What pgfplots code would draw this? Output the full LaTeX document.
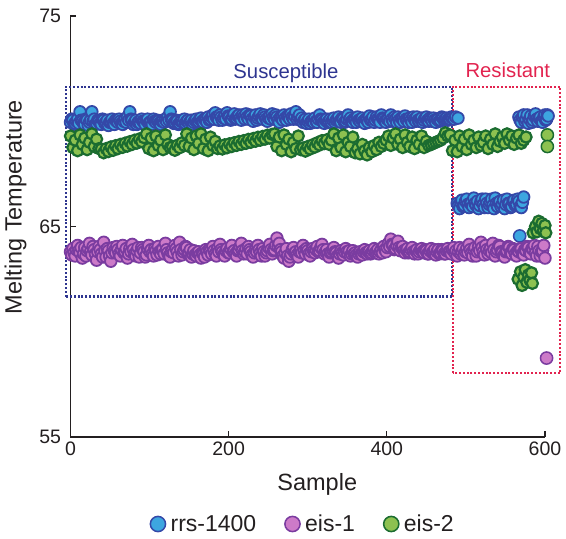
\documentclass[border=0pt]{standalone}
\usepackage{fontspec}
\setmainfont{Liberation Sans}
\usepackage{pgfplots}
\pgfplotsset{compat=1.18}
\definecolor{bluefill}{HTML}{3DA6E0}
\definecolor{blueedge}{HTML}{3448A8}
\definecolor{purpfill}{HTML}{CC7AC8}
\definecolor{purpedge}{HTML}{7A3CA0}
\definecolor{greenfill}{HTML}{8DC150}
\definecolor{greenedge}{HTML}{1B6C30}
\definecolor{boxblue}{HTML}{2E3590}
\definecolor{boxred}{HTML}{E2234F}
\definecolor{txt}{HTML}{231F20}
\pgfplotsset{
 dense/.style={only marks, mark=*, mark size=5.8pt, mark options={fill=#1fill, draw=#1edge, line width=1.8pt}},
 mid/.style={only marks, mark=*, mark size=5.6pt, mark options={fill=#1fill, draw=#1edge, line width=2.2pt}},
 single/.style={only marks, mark=*, mark size=6.1pt, mark options={fill=#1fill, draw=#1edge, line width=1.5pt}},
}
\begin{document}
\begin{tikzpicture}
\begin{axis}[
 at={(0pt,0pt)}, anchor=south west, scale only axis,
 width=474.5pt, height=421pt,
 xmin=0, xmax=600, ymin=55, ymax=75,
 axis x line*=bottom, axis y line*=left,
 axis line style={line width=1.2pt, color=txt, -},
 tick align=inside, major tick length=6pt,
 every tick/.style={line width=1.2pt, color=txt},
 xtick={0,200,400,600}, ytick={55,65,75},
 minor tick num=0,
 /pgf/number format/assume math mode=true,
 tick label style={font=\fontsize{19.5}{22}\selectfont, color=txt},
 xticklabel style={yshift=-1pt},
 yticklabel style={xshift=-6pt},
 xlabel={Sample}, ylabel={Melting Temperature},
 every axis x label/.style={at={(axis description cs:0.52,0)}, anchor=north, yshift=-36pt, inner sep=0pt, font=\fontsize{23.5}{26}\selectfont, color=txt},
 every axis y label/.style={at={(axis description cs:-0.1391,0.546)}, rotate=90, anchor=north, inner sep=0pt, font=\fontsize{23.5}{26}\selectfont, color=txt},
 clip=false,
 legend columns=3,
 legend style={at={(axis description cs:0.4895,0)}, anchor=center, yshift=-87pt, draw=none, fill=none, font=\fontsize{23}{26}\selectfont, text=txt, /tikz/every even column/.append style={column sep=26pt}},
 legend image code/.code={\path (-8pt,0pt) (10.5pt,0pt); \draw[#1, mark size=7.6pt, every mark/.append style={line width=1.5pt}] plot coordinates {(0pt,0pt)};},
]
\addplot[dense=blue] coordinates {
(0,69.95)(1.5,70.1)(3,70.05)(4.5,69.85)(6,69.9)(7.5,70.0)(9,70.1)(10.5,69.9)(12,70.45)(13.5,70.05)(15,70.0)(16.5,69.9)(18,69.85)(19.5,70.1)(21,70.05)(22.5,69.8)(24,69.95)(25.5,70.05)(27,70.45)(28.5,70.0)(30,70.1)(31.5,69.85)(33,69.9)(34.5,70.05)(36,70.0)(37.5,69.9)(39,69.85)(40.5,70.1)(42,70.05)(43.5,69.9)(45,69.95)(46.5,70.05)(48,69.8)(49.5,69.95)(51,70.0)(52.5,70.1)(54,69.9)(55.5,69.85)(57,70.05)(58.5,70.0)(60,69.95)(61.5,70.1)(63,70.0)(64.5,69.9)(66,69.85)(67.5,70.0)(69,70.1)(70.5,69.95)(72,70.2)(73.5,70.05)(75,70.45)(76.5,70.1)(78,70.05)(79.5,69.85)(81,69.95)(82.5,70.05)(84,69.85)(85.5,69.95)(87,70.0)(88.5,69.9)(90,70.1)(91.5,70.0)(93,69.95)(94.5,69.85)(96,70.05)(97.5,70.1)(99,69.9)(100.5,69.95)(102,70.0)(103.5,69.85)(105,70.1)(106.5,70.0)(108,69.95)(109.5,70.05)(111,70.0)(112.5,69.9)(114,69.85)(115.5,70.0)(117,70.05)(118.5,69.95)(120,70.1)(121.5,70.0)(123,70.2)(124.5,70.05)(126,70.45)(127.5,70.1)(129,70.05)(130.5,69.9)(132,69.95)(133.5,70.05)(135,70.0)(136.5,69.85)(138,69.9)(139.5,70.0)(141,70.05)(142.5,69.95)(144,70.1)(145.5,69.9)(147,70.0)(148.5,70.05)(150,69.9)(151.5,70.0)(153,70.05)(154.5,69.85)(156,69.95)(157.5,70.05)(159,70.1)(160.5,69.95)(162,70.0)(163.5,70.1)(165,70.15)(166.5,70.0)(168,69.95)(169.5,70.1)(171,70.05)(172.5,69.95)(174,70.2)(175.5,70.05)(177,70.1)(178.5,70.2)(180,70.3)(181.5,70.1)(183,70.4)(184.5,70.2)(186,70.15)(187.5,70.05)(189,70.3)(190.5,70.2)(192,70.05)(193.5,70.15)(195,70.25)(196.5,70.1)(198,70.4)(199.5,70.25)(201,70.2)(202.5,70.05)(204,70.1)(205.5,70.25)(207,70.35)(208.5,70.1)(210,70.15)(211.5,70.25)(213,70.3)(214.5,70.15)(216,70.05)(217.5,70.3)(219,70.2)(220.5,70.1)(222,70.35)(223.5,70.2)(225,70.1)(226.5,70.3)(228,70.25)(229.5,70.1)(231,70.0)(232.5,70.2)(234,70.3)(235.5,70.05)(237,70.15)(238.5,70.25)(240,70.35)(241.5,70.15)(243,70.1)(244.5,70.3)(246,70.2)(247.5,70.1)(249,70.0)(250.5,70.15)(252,70.25)(253.5,70.1)(255,70.35)(256.5,70.2)(258,70.1)(259.5,70.3)(261,70.2)(262.5,70.05)(264,69.95)(265.5,70.2)(267,70.15)(268.5,70.05)(270,70.3)(271.5,70.15)(273,70.05)(274.5,70.25)(276,70.2)(277.5,70.1)(279,70.35)(280.5,70.2)(282,70.1)(283.5,70.25)(285,70.45)(286.5,70.1)(288,70.2)(289.5,70.3)(291,70.05)(292.5,70.15)(294,69.95)(295.5,70.05)(297,70.1)(298.5,69.9)(300,70.0)(301.5,70.1)(303,69.9)(304.5,70.0)(306,70.05)(307.5,69.95)(309,70.15)(310.5,70.0)(312,69.95)(313.5,70.1)(315,70.3)(316.5,70.1)(318,70.05)(319.5,69.95)(321,69.9)(322.5,70.05)(324,70.1)(325.5,69.95)(327,70.0)(328.5,70.1)(330,69.95)(331.5,70.05)(333,70.15)(334.5,69.95)(336,70.05)(337.5,70.1)(339,70.2)(340.5,70.0)(342,69.95)(343.5,70.15)(345,70.1)(346.5,69.95)(348,70.0)(349.5,70.1)(351,70.3)(352.5,70.05)(354,70.15)(355.5,70.0)(357,69.95)(358.5,70.1)(360,70.05)(361.5,69.95)(363,70.2)(364.5,70.05)(366,70.0)(367.5,70.1)(369,70.15)(370.5,70.0)(372,69.9)(373.5,70.1)(375,70.05)(376.5,69.95)(378,70.25)(379.5,70.05)(381,70.1)(382.5,70.2)(384,69.95)(385.5,70.05)(387,70.2)(388.5,70.1)(390,70.05)(391.5,69.95)(393,70.3)(394.5,70.15)(396,70.1)(397.5,70.0)(399,69.95)(400.5,70.1)(402,70.15)(403.5,70.0)(405,70.3)(406.5,70.1)(408,70.0)(409.5,70.2)(411,70.1)(412.5,69.95)(414,70.2)(415.5,70.05)(417,69.95)(418.5,70.15)(420,70.1)(421.5,70.0)(423,70.25)(424.5,70.1)(426,70.05)(427.5,69.95)(429,70.15)(430.5,70.05)(432,69.95)(433.5,70.2)(435,70.1)(436.5,70.0)(438,70.2)(439.5,70.05)(441,70.0)(442.5,70.1)(444,70.15)(445.5,69.95)(447,70.05)(448.5,70.15)(450,70.2)(451.5,70.05)(453,70.0)(454.5,70.15)(456,70.1)(457.5,70.0)(459,70.15)(460.5,70.05)(462,69.95)(463.5,70.1)(465,70.1)(466.5,70.0)(468,70.05)(469.5,70.2)(471,70.15)(472.5,70.05)(474,70.1)(475.5,70.15)(477,70.05)(478.5,70.1)(480,70.1)(481.5,70.2)(483,70.15)(485,70.1)(487,70.2)(490,70.15)
(489,66.1)(490.5,66.0)(492,65.85)(493.5,66.15)(495,66.25)(496.5,65.95)(498,66.0)(499.5,66.2)(501,66.3)(502.5,66.05)(504,65.9)(505.5,66.1)(507,66.15)(508.5,65.95)(510,66.35)(511.5,66.1)(513,66.0)(514.5,66.2)(516,65.85)(517.5,66.0)(519,66.2)(520.5,66.3)(522,66.05)(523.5,65.9)(525,66.3)(526.5,66.1)(528,65.9)(529.5,66.05)(531,66.15)(532.5,66.3)(534,66.0)(535.5,65.85)(537,66.35)(538.5,66.1)(540,65.95)(541.5,66.15)(543,66.2)(544.5,65.95)(546,66.05)(547.5,66.25)(549,65.85)(550.5,66.05)(552,66.3)(553.5,66.1)(555,66.1)(556.5,65.9)(558,65.95)(559.5,66.2)(561,66.25)(562.5,66.0)(564,66.05)(565.5,66.3)(567,66.2)(568.5,65.95)(570,65.9)(571.5,66.15)(573,66.4)
(567,70.2)(568.5,70.05)(570,69.95)(571.5,70.2)(573,70.3)(574.5,70.0)(576,70.1)(577.5,70.3)(579,69.9)(580.5,70.1)(582,70.25)(583.5,69.95)(585,70.05)(586.5,70.25)(588,70.35)(589.5,70.1)(591,70.0)(592.5,70.15)(594,70.2)(595.5,70.0)(597,69.95)(598.5,70.2)(600,70.3)(601,70.05)(602,70.1)(603,70.3)(604,70.25)
};
\addlegendentry{rrs-1400}
\addplot[single=blue, forget plot] coordinates {(568,64.55)};
\addplot[dense=purp] coordinates {
(0,63.8)(1.5,63.65)(3,63.95)(4.5,63.75)(6,63.6)(7.5,63.9)(9,64.1)(10.5,63.85)(12,63.75)(13.5,64.0)(15,63.5)(16.5,63.7)(18,64.0)(19.5,63.6)(21,63.85)(22.5,63.95)(24,64.2)(25.5,63.8)(27,63.65)(28.5,64.05)(30,63.9)(31.5,63.7)(33,63.4)(34.5,63.8)(36,64.05)(37.5,63.9)(39,63.7)(40.5,63.55)(42,64.25)(43.5,63.85)(45,63.55)(46.5,63.95)(48,63.85)(49.5,63.6)(51,63.35)(52.5,63.75)(54,64.0)(55.5,63.85)(57,63.75)(58.5,64.05)(60,63.9)(61.5,63.7)(63,63.6)(64.5,63.9)(66,64.1)(67.5,63.75)(69,63.8)(70.5,63.95)(72,63.5)(73.5,63.7)(75,63.95)(76.5,63.8)(78,64.15)(79.5,63.9)(81,63.7)(82.5,63.6)(84,63.85)(85.5,64.0)(87,63.55)(88.5,63.75)(90,64.0)(91.5,63.9)(93,63.8)(94.5,63.55)(96,63.65)(97.5,63.95)(99,64.1)(100.5,63.8)(102,63.9)(103.5,63.7)(105,63.6)(106.5,63.95)(108,63.85)(109.5,63.65)(111,64.05)(112.5,63.8)(114,63.7)(115.5,63.9)(117,63.95)(118.5,63.7)(120,64.2)(121.5,63.9)(123,63.75)(124.5,63.6)(126,63.55)(127.5,63.8)(129,63.9)(130.5,63.75)(132,64.1)(133.5,63.95)(135,63.8)(136.5,63.6)(138,64.25)(139.5,63.9)(141,63.65)(142.5,63.8)(144,63.9)(145.5,64.05)(147,64.0)(148.5,63.7)(150,63.75)(151.5,63.9)(153,63.55)(154.5,63.7)(156,63.85)(157.5,63.65)(159,63.6)(160.5,63.75)(162,63.8)(163.5,63.65)(165,63.5)(166.5,63.75)(168,63.7)(169.5,63.55)(171,63.9)(172.5,63.8)(174,63.65)(175.5,63.9)(177,63.85)(178.5,63.7)(180,64.05)(181.5,63.85)(183,63.7)(184.5,63.6)(186,63.95)(187.5,63.8)(189,64.15)(190.5,63.9)(192,63.8)(193.5,63.65)(195,63.6)(196.5,63.85)(198,63.95)(199.5,63.75)(201,63.75)(202.5,63.95)(204,64.1)(205.5,63.8)(207,63.85)(208.5,63.7)(210,63.6)(211.5,63.85)(213,63.9)(214.5,64.05)(216,64.2)(217.5,63.85)(219,63.7)(220.5,63.8)(222,63.95)(223.5,63.7)(225,64.05)(226.5,63.9)(228,63.8)(229.5,63.65)(231,63.55)(232.5,63.75)(234,63.9)(235.5,63.8)(237,64.1)(238.5,63.9)(240,63.75)(241.5,63.6)(243,63.95)(244.5,63.8)(246,63.6)(247.5,63.75)(249,63.85)(250.5,64.0)(252,64.15)(253.5,63.9)(255,63.7)(256.5,63.85)(258,63.9)(259.5,64.1)(261,64.45)(262.5,64.05)(264,64.2)(265.5,63.9)(267,63.8)(268.5,63.6)(270,63.5)(271.5,63.75)(273,63.95)(274.5,63.6)(276,63.35)(277.5,63.55)(279,63.7)(280.5,63.9)(282,64.0)(283.5,63.75)(285,63.8)(286.5,63.65)(288,63.55)(289.5,63.8)(291,63.9)(292.5,63.75)(294,64.1)(295.5,63.85)(297,63.7)(298.5,63.95)(300,63.85)(301.5,63.7)(303,63.6)(304.5,63.8)(306,63.95)(307.5,63.85)(309,63.75)(310.5,63.9)(312,64.05)(313.5,63.8)(315,63.85)(316.5,64.0)(318,64.15)(319.5,63.9)(321,63.7)(322.5,63.8)(324,63.9)(325.5,63.7)(327,63.55)(328.5,63.75)(330,63.8)(331.5,63.9)(333,64.0)(334.5,63.8)(336,63.75)(337.5,63.6)(339,63.5)(340.5,63.7)(342,63.85)(343.5,63.75)(345,63.65)(346.5,63.8)(348,63.95)(349.5,63.8)(351,63.7)(352.5,63.85)(354,63.6)(355.5,63.7)(357,63.85)(358.5,63.7)(360,63.75)(361.5,63.65)(363,63.55)(364.5,63.7)(366,63.8)(367.5,63.7)(369,63.65)(370.5,63.8)(372,63.9)(373.5,63.75)(375,63.7)(376.5,63.8)(378,63.85)(379.5,63.7)(381,63.75)(382.5,63.85)(384,63.95)(385.5,63.75)(387,63.8)(388.5,63.9)(390,63.7)(391.5,63.8)(393,63.9)(394.5,63.75)(396,64.05)(397.5,63.9)(399,63.8)(400.5,64.0)(402,64.2)(403.5,64.05)(405,64.4)(406.5,64.15)(408,64.1)(409.5,63.9)(411,63.95)(412.5,64.1)(414,64.3)(415.5,64.0)(417,63.85)(418.5,64.0)(420,64.05)(421.5,63.85)(423,63.75)(424.5,63.9)(426,63.95)(427.5,63.75)(429,63.8)(430.5,63.9)(432,64.0)(433.5,63.8)(435,63.7)(436.5,63.85)(438,63.9)(439.5,63.7)(441,63.8)(442.5,63.9)(444,63.95)(445.5,63.8)(447,63.75)(448.5,63.9)(450,63.85)(451.5,63.7)(453,63.7)(454.5,63.85)(456,63.95)(457.5,63.75)(459,63.8)(460.5,63.9)(462,63.65)(463.5,63.8)(465,63.9)(466.5,63.7)(468,63.75)(469.5,63.9)(471,63.85)(472.5,63.7)(474,63.7)(475.5,63.85)(477,63.95)(478.5,63.8)(480,63.8)(481.5,63.7)(483,63.9)(484.5,64.0)(486,63.75)(487.5,63.85)(489,63.6)(490.5,63.8)(492,64.0)(493.5,63.7)(495,63.8)(496.5,63.95)(498,63.65)(499.5,63.8)(501,63.95)(502.5,63.75)(504,64.15)(505.5,63.9)(507,63.75)(508.5,63.6)(510,63.9)(511.5,64.0)(513,63.6)(514.5,63.8)(516,64.05)(517.5,63.85)(519,64.25)(520.5,64.0)(522,63.8)(523.5,63.65)(525,64.1)(526.5,63.9)(528,63.7)(529.5,63.85)(531,63.95)(532.5,63.75)(534,64.2)(535.5,63.9)(537,63.6)(538.5,63.8)(540,63.9)(541.5,64.1)(543,64.05)(544.5,63.8)(546,63.75)(547.5,63.6)(549,63.55)(550.5,63.8)(552,63.85)(553.5,64.05)(555,64.0)(556.5,63.75)(558,63.7)(559.5,63.95)(561,63.9)(562.5,63.7)(564,63.6)(565.5,63.85)(567,63.8)(568.5,63.95)(570,63.95)(571.5,63.7)(573,63.65)(574.5,63.9)(576,63.85)(577.5,64.05)(579,64.0)(580.5,63.75)(582,63.7)(583.5,63.95)(585,63.9)(586.5,64.1)(588,63.75)(589.5,63.6)(591,64.05)(592.5,63.85)(594,63.6)(595.5,63.8)(597,63.85)(598.5,64.1)(600,63.5)
};
\addlegendentry{eis-1}
\addplot[single=purp, forget plot] coordinates {(602,58.75)};
\addplot[mid=green] coordinates {
(0,69.3)(3,68.75)(6,69.1)(9,68.6)(12,69.35)(15,68.9)(18,69.2)(21,68.65)(24,69.0)(27,69.4)(30,68.8)(33,69.15)(36,68.7)
(39,68.68)(42,68.5)(45,68.7)(48,68.56)(51,68.78)(54,68.62)(57,68.84)(60,68.7)(63,68.9)(66,68.76)(69,68.96)(72,68.82)(75,69.03)(78,68.9)(81,69.1)(84,68.96)(87,69.16)(90,69.03)(93,69.22)
(96,69.4)(99,68.7)(102,69.2)(105,68.6)(108,69.3)(111,68.85)(114,69.1)(117,68.65)(120,69.35)(123,68.9)(126,68.75)
(129,68.78)(132,68.62)(135,68.86)(138,68.74)(141,68.98)(144,68.85)
(147,69.4)(150,68.8)(153,69.2)(156,68.65)(159,69.3)(162,68.95)(165,69.4)(168,68.7)(171,69.15)(174,68.6)(177,69.25)(180,68.85)(183,69.05)(186,68.7)
(189,68.83)(192,68.68)(195,68.88)(198,68.74)(201,68.93)(204,68.8)(207,68.98)(210,68.85)(213,69.04)(216,68.9)(219,69.08)(222,68.95)(225,69.14)(228,69.0)(231,69.18)(234,69.05)(237,69.24)(240,69.1)(243,69.28)(246,69.15)(249,69.34)(252,69.2)(255,69.38)
(258,69.4)(261,68.8)(264,69.25)(267,68.6)(270,69.35)(273,68.9)(276,69.15)(279,68.55)(282,69.0)(285,68.7)(288,69.3)(291,68.65)
(294,68.73)(297,68.58)(300,68.8)(303,68.68)(306,68.88)(309,68.77)(312,68.98)(315,68.87)(318,69.08)(321,68.94)(324,69.12)
(327,68.9)(330,69.1)(333,69.4)(336,68.6)(339,69.2)(342,68.75)(345,69.35)(348,68.55)(351,69.0)(354,68.8)(357,69.25)(360,68.5)(363,68.7)(366,68.45)(369,68.9)(372,68.6)(375,68.4)(378,68.75)(381,68.55)(384,68.85)(387,68.65)(390,69.0)(393,68.8)(396,68.95)(399,69.1)(402,69.3)(405,68.85)(408,69.2)(411,69.4)(414,68.9)(417,69.15)(420,68.75)(423,69.35)(426,69.0)(429,68.8)(432,69.25)(435,68.7)(438,69.1)(441,68.9)(444,69.3)(447,68.75)(450,69.05)(453,68.85)(456,68.9)(459,68.95)(462,69.0)(465,69.05)(468,69.1)(471,69.2)(474,69.45)(477,69.3)(480,69.35)(483,68.6)(486,69.1)(489,68.55)(492,69.3)(495,68.8)(498,69.15)(501,68.65)(504,69.35)(507,68.9)(510,69.1)(513,68.75)(516,69.25)(519,68.85)(522,69.0)(525,69.3)(528,68.7)(531,69.15)(534,68.9)(537,69.4)(540,68.8)(543,69.05)(546,69.25)(549,68.95)(552,69.4)(555,69.1)(558,69.3)(561,68.9)(564,69.2)(567,69.35)(570,68.95)(573,69.1)(576,69.25)
};
\addlegendentry{eis-2}
\addplot[mid=green, forget plot] coordinates {
(566,62.5)(569,62.85)(571,62.2)(573,62.6)(575,62.95)(577,62.35)(579,62.7)(581,62.45)(583,62.8)(584,62.3)
(585,64.7)(588,65.0)(590,64.75)(592,65.25)(594,64.9)(596,65.15)(598,64.8)(600,65.05)(601,64.7)
};
\addplot[single=green, forget plot] coordinates {(603,69.35)(603,68.8)};
\draw[boxblue, line width=2.2pt, dash pattern=on 2pt off 1.8pt] (axis cs:-5.4,61.67) rectangle (axis cs:482.4,71.64);
\draw[boxred, line width=2.2pt, dash pattern=on 2pt off 1.8pt] (axis cs:483.7,58.03) rectangle (axis cs:619,71.64);
\node[anchor=base, inner sep=0pt, font=\fontsize{20.3}{22}\selectfont, text=boxblue] at (axis cs:272.4,72.04) {Susceptible};
\node[anchor=base, inner sep=0pt, font=\fontsize{20.3}{22}\selectfont, text=boxred] at (axis cs:553,72.09) {Resistant};
\end{axis}
\pgfresetboundingbox
\path[use as bounding box] (-70.5pt,-102pt) rectangle (495.5pt,437pt);
\end{tikzpicture}
\end{document}
